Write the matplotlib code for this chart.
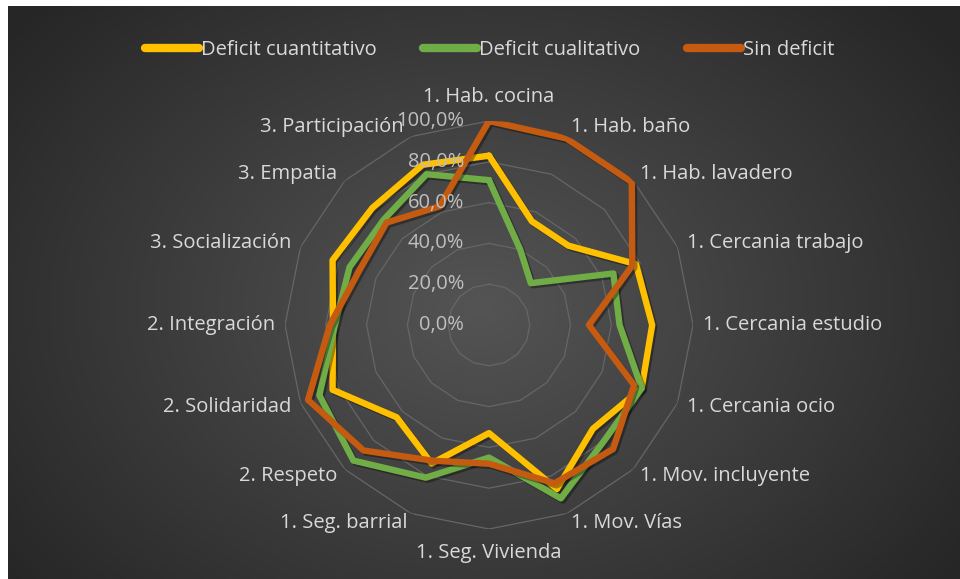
import numpy as np
import matplotlib
matplotlib.use("Agg")
import matplotlib.pyplot as plt
import matplotlib.patheffects as pe
from matplotlib.transforms import offset_copy

# datos
categorias = ['1. Hab. cocina', '1. Hab. baño', '1. Hab. lavadero', '1. Cercania trabajo',
              '1. Cercania estudio', '1. Cercania ocio', '1. Mov. incluyente', '1. Mov. Vías',
              '1. Seg. Vivienda', '1. Seg. barrial', '2. Respeto', '2. Solidaridad',
              '2. Integración', '3. Socialización', '3. Empatia', '3. Participación']
deficit_cuantitativo = [0.83, 0.55, 0.55, 0.78, 0.80, 0.81, 0.72, 0.87,
                        0.53, 0.735, 0.64, 0.83, 0.765, 0.83, 0.81, 0.85]
deficit_cualitativo = [0.71, 0.40, 0.29, 0.66, 0.64, 0.81, 0.80, 0.92,
                       0.65, 0.81, 0.94, 0.90, 0.755, 0.74, 0.73, 0.80]
sin_deficit = [1.00, 0.99, 0.99, 0.76, 0.49, 0.77, 0.86, 0.84,
               0.68, 0.72, 0.87, 0.96, 0.78, 0.69, 0.71, 0.63]
niveles = [0.0, 0.2, 0.4, 0.6, 0.8, 1.0]
etiquetas_niveles = ['0,0%', '20,0%', '40,0%', '60,0%', '80,0%', '100,0%']

series = [('Deficit cuantitativo', deficit_cuantitativo, '#FFC000'),
          ('Deficit cualitativo', deficit_cualitativo, '#70AD47'),
          ('Sin deficit', sin_deficit, '#C55A11')]

plt.rcParams['font.family'] = ['Open Sans', 'DejaVu Sans']
W, H = 960, 579
fs = 14.5
fig = plt.figure(figsize=(W / 100, H / 100), dpi=100, facecolor='white')

# fondo con degradado radial
bg = fig.add_axes([8 / W, 0, 1 - 8 / W, 1 - 6 / H])
yy, xx = np.mgrid[0:573, 0:952]
d = np.sqrt(((xx - 470) / 560) ** 2 + ((yy - 300) / 420) ** 2)
val = np.clip(0.33 - 0.17 * d, 0.15, 0.33)
bg.imshow(np.dstack([val, val, val]), aspect='auto', interpolation='bilinear')
bg.axis('off')

# radar
cx, cy, R = 489, 325, 204
ax = fig.add_axes([(cx - R) / W, 1 - (cy + R) / H, 2 * R / W, 2 * R / H], projection='polar')
ax.set_facecolor('none')
ax.set_theta_offset(np.pi / 2)
ax.set_theta_direction(-1)
ax.set_ylim(0, 1)
ax.grid(False)
ax.spines['polar'].set_visible(False)
ax.set_xticks([])
ax.set_yticks([])

n = len(categorias)
ang = np.linspace(0, 2 * np.pi, n, endpoint=False)
ang_c = np.append(ang, ang[0])

for lv in niveles[1:]:
    ax.plot(ang_c, [lv] * (n + 1), color='#666666', lw=0.9, zorder=1)

for nombre, vals, col in series:
    v = np.append(vals, vals[0])
    ax.plot(ang_c, v, color=col, lw=4.6, label=nombre, solid_joinstyle='round',
            solid_capstyle='round', zorder=3,
            path_effects=[pe.SimpleLineShadow(offset=(1.5, -1.5), alpha=0.35), pe.Normal()])

# etiquetas de categorias
tr_part = offset_copy(ax.transData, fig=fig, x=-3, y=0, units='dots')
for a, txt in zip(ang, categorias):
    s = np.sin(a)
    c = np.cos(a)
    tr = ax.transData
    if abs(s) < 0.1:
        ha = 'center'
        va = 'bottom' if c > 0 else 'top'
        r = 1.07
    else:
        ha = 'left' if s > 0 else 'right'
        va = 'center'
        r = 1.05
        if txt == '3. Participación':
            tr = tr_part
    ax.text(a, r, txt, ha=ha, va=va, color='#d9d9d9', fontsize=fs, transform=tr)

# etiquetas del eje
tr = offset_copy(ax.transData, fig=fig, x=-25, y=0, units='dots')
for lv, txt in zip(niveles, etiquetas_niveles):
    ax.text(0, lv, txt, transform=tr, ha='right', va='center', color='#bfbfbf', fontsize=fs)

leg = fig.legend(loc='upper center', bbox_to_anchor=(0.51, 0.962), ncol=3, frameon=False,
                 fontsize=fs, handlelength=2.7, handletextpad=0.1, columnspacing=2.3)
for t in leg.get_texts():
    t.set_color('#d9d9d9')
for h in leg.legend_handles:
    h.set_linewidth(6)
    h.set_path_effects([])

fig.savefig('out.png', dpi=100, facecolor='white')
